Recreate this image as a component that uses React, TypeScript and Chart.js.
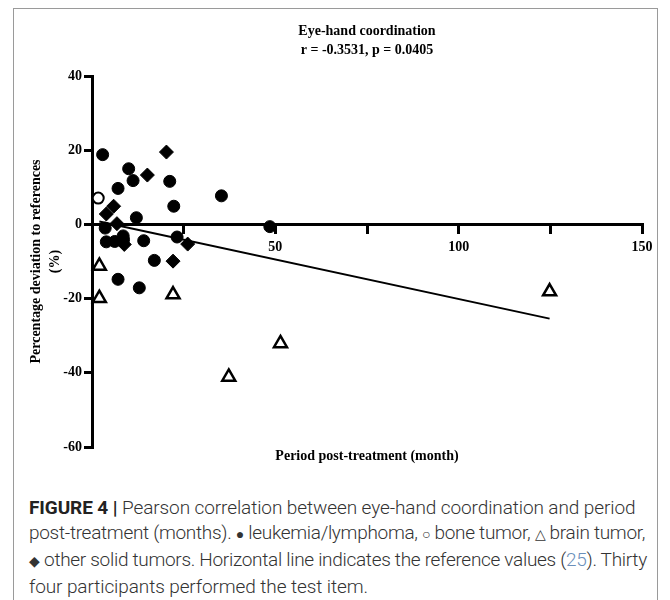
import React, { useEffect, useRef } from "react";
import { Chart, registerables } from "chart.js";

Chart.register(...registerables);

// ---- Data ----
const titleLines = ["Eye-hand coordination", "r = -0.3531, p = 0.0405"];
const xAxisTitle = "Period post-treatment (month)";
const yAxisTitleLines = ["Percentage deviation to references", "(%)"];

const xMin = 0;
const xMax = 150;
const xStep = 25;
const xLabelEvery = 50;
const yMin = -60;
const yMax = 40;
const yStep = 20;

// leukemia/lymphoma (filled circles)
const leukemiaX = [2.9, 10.0, 11.2, 7.1, 21.2, 22.3, 35.3, 12.1, 48.5, 23.2, 14.1, 3.9, 8.5, 8.6, 17.0, 7.1, 12.9, 3.6, 6.2];
const leukemiaY = [18.8, 15.0, 11.8, 9.7, 11.6, 4.9, 7.7, 1.8, -0.6, -3.4, -4.4, -4.7, -3.1, -4.1, -9.7, -14.8, -17.1, -1.0, -4.6];

// bone tumor (open circle)
const boneX = [1.7];
const boneY = [7.1];

// brain tumor (open triangles)
const brainX = [2.0, 2.0, 22.1, 51.4, 37.3, 124.8];
const brainY = [-11.2, -19.9, -18.9, -32.1, -41.1, -18.1];

// other solid tumors (filled diamonds)
const otherX = [20.3, 15.1, 5.9, 3.9, 6.8, 8.8, 26.1, 22.1];
const otherY = [19.5, 13.3, 4.9, 2.8, 0.2, -5.4, -5.3, -9.9];

// regression line end points
const fitX = [2.0, 124.8];
const fitY = [0.8, -25.4];

const FONT_FAMILY = "'Liberation Serif', 'Times New Roman', serif";

function toPoints(xs: number[], ys: number[]) {
  return xs.map((x, i) => ({ x, y: ys[i] }));
}

const sym: React.CSSProperties = { fontSize: 14, fontWeight: 400 };

export default function App() {
  const canvasRef = useRef<HTMLCanvasElement | null>(null);

  useEffect(() => {
    const canvas = canvasRef.current;
    if (!canvas) return;
    const font = { family: FONT_FAMILY, size: 14, weight: "bold" as const, lineHeight: 19 / 14 };

    const chart = new Chart(canvas, {
      type: "scatter",
      data: {
        datasets: [
          {
            label: "leukemia/lymphoma",
            data: toPoints(leukemiaX, leukemiaY),
            pointStyle: "circle",
            pointRadius: 6,
            pointBorderWidth: 1,
            pointBackgroundColor: "#000",
            pointBorderColor: "#000",
            clip: false,
          } as any,
          {
            label: "bone tumor",
            data: toPoints(boneX, boneY),
            pointStyle: "circle",
            pointRadius: 5.5,
            pointBorderWidth: 2,
            pointBackgroundColor: "#fff",
            pointBorderColor: "#000",
            clip: false,
          } as any,
          {
            label: "brain tumor",
            data: toPoints(brainX, brainY),
            pointStyle: "triangle",
            pointRadius: 7.5,
            pointBorderWidth: 2.5,
            pointBackgroundColor: "#fff",
            pointBorderColor: "#000",
            clip: false,
          } as any,
          {
            label: "other solid tumors",
            data: toPoints(otherX, otherY),
            pointStyle: "rectRot",
            pointRadius: 7,
            pointBorderWidth: 1,
            pointBackgroundColor: "#000",
            pointBorderColor: "#000",
            clip: false,
          } as any,
          {
            type: "line",
            label: "fit",
            data: toPoints(fitX, fitY),
            borderColor: "#000",
            borderWidth: 2,
            pointRadius: 0,
            fill: false,
            clip: false,
          } as any,
        ],
      },
      options: {
        animation: false,
        responsive: false,
        maintainAspectRatio: false,
        layout: { padding: { left: 0, right: 15, top: 0, bottom: 0 } },
        plugins: {
          legend: { display: false },
          tooltip: { enabled: false },
          title: {
            display: true,
            text: titleLines,
            fullSize: false,
            color: "#000",
            font,
            padding: { top: 12.5, bottom: 16.5 },
          },
          subtitle: {
            display: true,
            position: "bottom",
            text: xAxisTitle,
            fullSize: false,
            color: "#000",
            font,
            padding: { top: 0, bottom: 21 },
          },
        },
        scales: {
          x: {
            type: "linear",
            position: { y: 0 } as any,
            min: xMin,
            max: xMax,
            ticks: {
              stepSize: xStep,
              autoSkip: false,
              maxRotation: 0,
              color: "#000",
              font,
              padding: 5,
              callback: (v: any) => (Number(v) % xLabelEvery === 0 && Number(v) !== 0 ? String(v) : ""),
            },
            grid: {
              display: true,
              drawOnChartArea: false,
              drawTicks: true,
              tickLength: 8,
              lineWidth: 3,
              color: "#000",
            },
            border: { display: true, width: 3, color: "#000" },
            afterFit: (s: any) => {
              s.height = 0;
              s.paddingLeft = 0;
              s.paddingRight = 0;
            },
          } as any,
          y: {
            type: "linear",
            position: "left",
            min: yMin,
            max: yMax,
            ticks: { stepSize: yStep, color: "#000", font, padding: 2 },
            grid: {
              display: true,
              drawOnChartArea: false,
              drawTicks: true,
              tickLength: 8,
              lineWidth: 3,
              color: "#000",
            },
            border: { display: true, width: 3, color: "#000" },
            title: {
              display: true,
              text: yAxisTitleLines,
              color: "#000",
              font,
              padding: { top: 12.5, bottom: 0 },
            },
            afterFit: (s: any) => {
              s.width = 78;
              s.paddingTop = 0;
              s.paddingBottom = 0;
            },
          } as any,
        },
      },
    });
    return () => chart.destroy();
  }, []);

  return (
    <div
      style={{
        marginLeft: 5,
        width: 643,
        border: "1px solid #9a9a9a",
        background: "#fff",
      }}
    >
      <canvas ref={canvasRef} width={643} height={478} style={{ display: "block", width: 643, height: 478 }} />
      <div
        style={{
          padding: "8px 0 12px 15px",
          fontFamily: "Roboto, 'Liberation Sans', sans-serif",
          fontWeight: 300,
          fontSize: 19,
          lineHeight: "25px",
          color: "#333",
          whiteSpace: "nowrap",
        }}
      >
        <div style={{ letterSpacing: "-0.1px" }}>
          <span style={{ fontWeight: 700, color: "#222" }}>FIGURE 4 |</span> Pearson correlation between eye-hand coordination and period
        </div>
        <div style={{ letterSpacing: "-0.3px" }}>
          post-treatment (months). <span style={sym}>●</span> leukemia/lymphoma, <span style={sym}>○</span> bone tumor,{" "}
          <span style={sym}>△</span> brain tumor,
        </div>
        <div style={{ letterSpacing: "-0.3px" }}>
          <span style={sym}>◆</span> other solid tumors. Horizontal line indicates the reference values (
          <span style={{ color: "#6a8fba" }}>25</span>). Thirty
        </div>
        <div style={{ letterSpacing: "-0.1px" }}>four participants performed the test item.</div>
      </div>
    </div>
  );
}
